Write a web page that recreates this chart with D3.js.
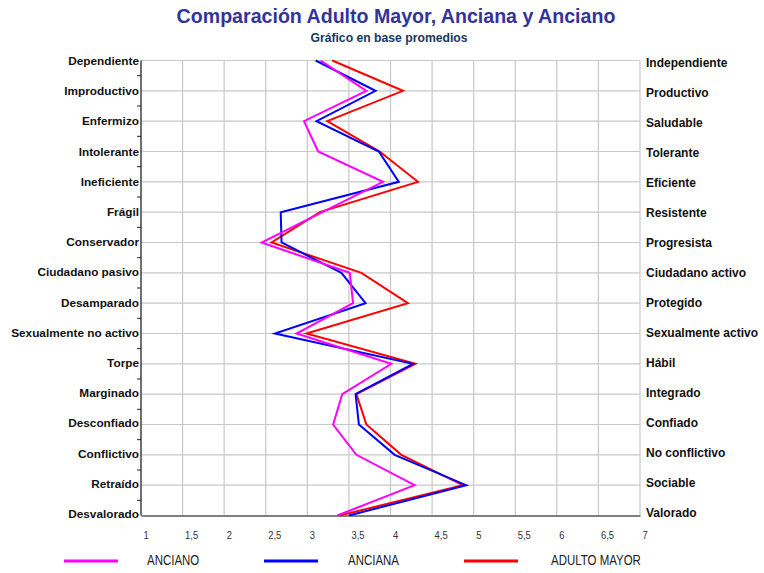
<!DOCTYPE html>
<html>
<head>
<meta charset="utf-8">
<script src="https://cdn.jsdelivr.net/npm/d3@7"></script>
<style>
  html, body { margin: 0; padding: 0; background: #ffffff; }
  svg { display: block; }
</style>
</head>
<body>
<svg id="chart" width="764" height="573"></svg>
<script>
// Semantic differential: negative pole on the left, positive pole on the right
const leftLabels = ["Dependiente", "Improductivo", "Enfermizo", "Intolerante", "Ineficiente", "Frágil",
  "Conservador", "Ciudadano pasivo", "Desamparado", "Sexualmente no activo", "Torpe", "Marginado",
  "Desconfiado", "Conflictivo", "Retraído", "Desvalorado"];
const rightLabels = ["Independiente", "Productivo", "Saludable", "Tolerante", "Eficiente", "Resistente",
  "Progresista", "Ciudadano activo", "Protegido", "Sexualmente activo", "Hábil", "Integrado",
  "Confiado", "No conflictivo", "Sociable", "Valorado"];

// Average score per item (scale 1–7)
const anciano     = [3.16, 3.71, 2.96, 3.13, 3.91, 3.18, 2.45, 3.51, 3.55, 2.87, 4.01, 3.42, 3.31, 3.59, 4.29, 3.36];
const anciana     = [3.10, 3.82, 3.11, 3.86, 4.10, 2.68, 2.69, 3.41, 3.70, 2.61, 4.27, 3.58, 3.62, 4.05, 4.91, 3.50];
const adultoMayor = [3.30, 4.15, 3.24, 3.87, 4.33, 3.15, 2.57, 3.65, 4.21, 2.99, 4.30, 3.59, 3.71, 4.13, 4.87, 3.39];

const xTicks = [1, 1.5, 2, 2.5, 3, 3.5, 4, 4.5, 5, 5.5, 6, 6.5, 7];
const seriesNames = ["ANCIANO", "ANCIANA", "ADULTO MAYOR"];
const seriesColors = ["#ff00ff", "#0000ff", "#ff0000"];
const seriesValues = [anciano, anciana, adultoMayor];

const svg = d3.select("#chart");
const plotLeft = 141, plotRight = 640, plotTop = 60.5, plotBottom = 515.5;

const x = d3.scaleLinear().domain([1, 7]).range([plotLeft, plotRight]);
const y = d3.scalePoint().domain(d3.range(leftLabels.length)).range([plotTop, plotBottom]);
// label rows on each side sit slightly off the grid rows
const yLeftLabel = d3.scalePoint().domain(d3.range(leftLabels.length)).range([61, 514]);
const yRightLabel = d3.scalePoint().domain(d3.range(rightLabels.length)).range([63, 513]);

const boldFont = "'Liberation Sans', Arial, sans-serif";
const narrowScale = 0.82; // condensed look for axis and legend text

// Title
svg.append("text")
  .attr("x", 396).attr("y", 16)
  .attr("text-anchor", "middle").attr("dominant-baseline", "central")
  .attr("font-family", boldFont).attr("font-weight", "bold").attr("font-size", 19.6)
  .attr("fill", "#333399")
  .text("Comparación Adulto Mayor, Anciana y Anciano");
svg.append("text")
  .attr("x", 389).attr("y", 38)
  .attr("text-anchor", "middle").attr("dominant-baseline", "central")
  .attr("font-family", boldFont).attr("font-weight", "bold").attr("font-size", 12.2)
  .attr("fill", "#17375e")
  .text("Gráfico en base promedios");

// Grid
const grid = svg.append("g").attr("stroke", "#c8c8c8").attr("stroke-width", 1.2);
grid.selectAll("line.v").data(xTicks.slice(1)).join("line")
  .attr("x1", d => x(d)).attr("x2", d => x(d))
  .attr("y1", plotTop).attr("y2", plotBottom);
grid.selectAll("line.h").data(d3.range(leftLabels.length - 1)).join("line")
  .attr("x1", plotLeft).attr("x2", plotRight)
  .attr("y1", d => y(d)).attr("y2", d => y(d));

// Bottom axis
const xAxis = d3.axisBottom(x).tickValues(xTicks).tickSize(0)
  .tickFormat(d => String(d).replace(".", ","));
const gx = svg.append("g").attr("transform", `translate(0,${plotBottom})`).call(xAxis);
gx.select(".domain").attr("stroke", "#808080").attr("stroke-width", 1.8);
gx.selectAll("text")
  .attr("text-anchor", "start")
  .attr("x", 2 / narrowScale).attr("y", 11)
  .attr("transform", `scale(${narrowScale},1)`)
  .attr("dominant-baseline", "central")
  .attr("font-family", boldFont).attr("font-size", 11.5)
  .attr("fill", "#333");

// Left axis line with minor ticks
svg.append("line")
  .attr("x1", plotLeft).attr("x2", plotLeft).attr("y1", plotTop).attr("y2", plotBottom)
  .attr("stroke", "#222").attr("stroke-width", 1.3);
svg.append("g").selectAll("line").data(d3.range(leftLabels.length - 1)).join("line")
  .attr("x1", plotLeft - 4).attr("x2", plotLeft)
  .attr("y1", d => (y(d) + y(d + 1)) / 2).attr("y2", d => (y(d) + y(d + 1)) / 2)
  .attr("stroke", "#222").attr("stroke-width", 1);

// Pole labels
svg.append("g").selectAll("text").data(leftLabels).join("text")
  .attr("x", plotLeft - 2).attr("y", (d, i) => yLeftLabel(i))
  .attr("text-anchor", "end").attr("dominant-baseline", "central")
  .attr("font-family", boldFont).attr("font-weight", "bold").attr("font-size", 11.8)
  .attr("fill", "#111")
  .text(d => d);
svg.append("g").selectAll("text").data(rightLabels).join("text")
  .attr("x", plotRight + 6).attr("y", (d, i) => yRightLabel(i))
  .attr("text-anchor", "start").attr("dominant-baseline", "central")
  .attr("font-family", boldFont).attr("font-weight", "bold").attr("font-size", 12)
  .attr("fill", "#111")
  .text(d => d);

// Profile lines (drawn so the first series ends on top)
const line = d3.line().x(d => x(d)).y((d, i) => y(i));
const order = [2, 1, 0];
svg.append("g").selectAll("path").data(order).join("path")
  .attr("d", k => line(seriesValues[k]))
  .attr("fill", "none")
  .attr("stroke", k => seriesColors[k])
  .attr("stroke-width", 2)
  .attr("stroke-linejoin", "miter");

// Legend
const legendX = [64, 264, 464];
const legendTextX = [147, 348, 551];
const lg = svg.append("g");
lg.selectAll("line").data(seriesNames).join("line")
  .attr("x1", (d, i) => legendX[i]).attr("x2", (d, i) => legendX[i] + 54)
  .attr("y1", 561).attr("y2", 561)
  .attr("stroke", (d, i) => seriesColors[i]).attr("stroke-width", 3);
lg.selectAll("text").data(seriesNames).join("text")
  .attr("x", (d, i) => legendTextX[i] / narrowScale).attr("y", 560)
  .attr("transform", `scale(${narrowScale},1)`)
  .attr("dominant-baseline", "central")
  .attr("font-family", boldFont).attr("font-size", 14)
  .attr("fill", "#222")
  .text(d => d);
</script>
</body>
</html>
